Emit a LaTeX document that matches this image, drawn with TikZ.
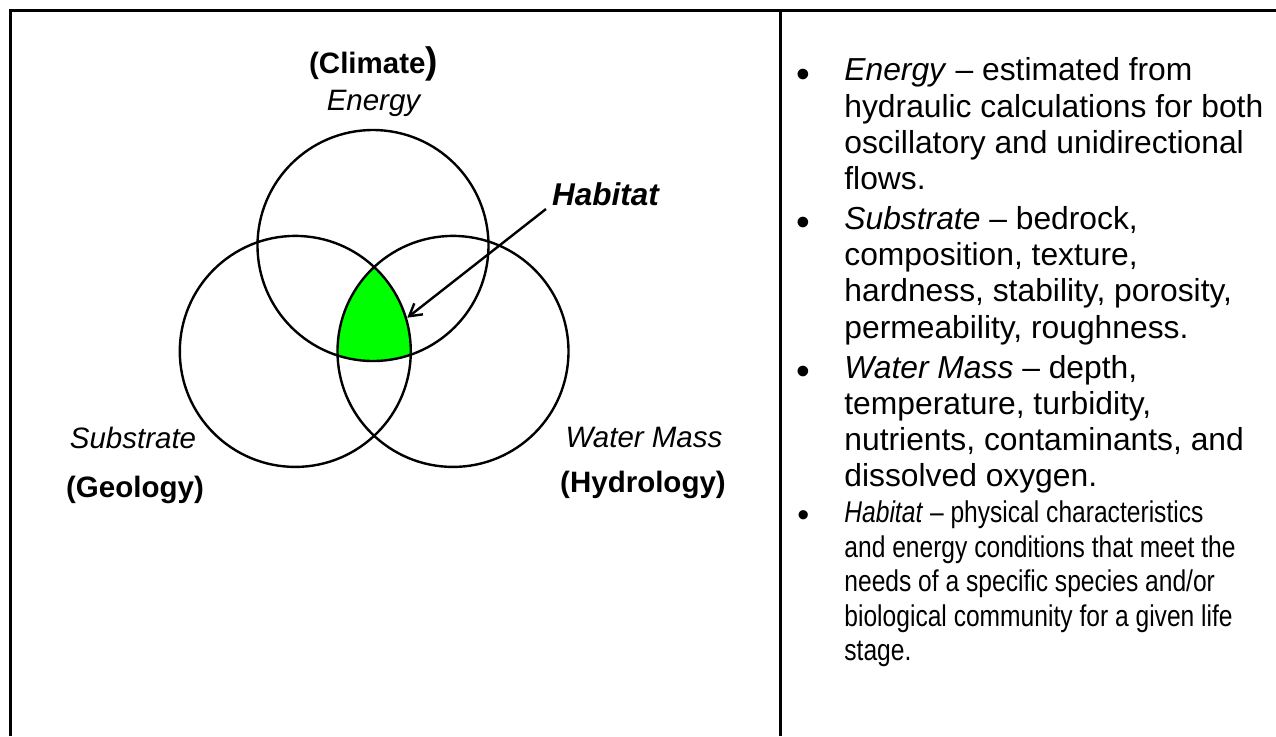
\documentclass[tikz,border=0pt]{standalone}
\usepackage{fontspec}
\setmainfont{Liberation Sans}
\newfontfamily\narrowsans[FakeStretch=0.82]{Liberation Sans}
\usetikzlibrary{arrows.meta}
\definecolor{habgreen}{RGB}{0,255,0}
\begin{document}
\begin{tikzpicture}[x=0.5pt,y=-0.5pt,
  frame/.style={line width=1.5pt},
  venn/.style={line width=1.2pt},
  lab/.style={inner sep=0pt, anchor=base, font=\fontsize{14.75}{17}\selectfont},
  habtext/.style={inner sep=0pt, anchor=base west, font=\fontsize{15.75}{18}\selectfont\bfseries\itshape},
  item/.style={inner sep=0pt, anchor=base west, font=\fontsize{15.9}{18.15}\selectfont},
  smallitem/.style={inner sep=0pt, anchor=base west, font=\narrowsans\fontsize{15}{17.25}\selectfont},
  bul/.style={inner sep=0pt, anchor=base, font=\fontsize{19.6}{20}\selectfont},
  smallbul/.style={inner sep=0pt, anchor=base, font=\fontsize{17}{18}\selectfont},
  pointer/.style={line width=1.2pt, -{Straight Barb[length=6pt,width=7pt]}}]
\useasboundingbox (0,0) rectangle (1276,736);
\fill[white] (0,0) rectangle (1276,736);
% frame
\draw[frame, line join=miter] (10.5,736) -- (10.5,10.5) -- (1276,10.5);
\draw[frame] (780.5,10.5) -- (780.5,736);
% circle centres
\coordinate (ctop) at (373,245.5);
\coordinate (cleft) at (295.3,351.4);
\coordinate (cright) at (453,351.4);
% habitat region
\begin{scope}
  \clip (ctop) circle (115.5);
  \clip (cleft) circle (115.5);
  \fill[habgreen] (cright) circle (115.5);
\end{scope}
\draw[venn] (ctop) circle (115.5);
\draw[venn] (cleft) circle (115.5);
\draw[venn] (cright) circle (115.5);
% labels
\node[lab] (climate) at (373.5,73) {\bfseries (Climate{\fontsize{18.5}{18.5}\selectfont )}};
\node[lab] (energy) at (373.5,110) {\itshape Energy};
\node[lab] (substrate) at (133,448) {\itshape Substrate};
\node[lab] (geology) at (135,497) {\bfseries (Geology)};
\node[lab] (water) at (644,447) {\itshape Water Mass};
\node[lab] (hydrology) at (643,492) {\bfseries (Hydrology)};
\node[habtext] (habitat) at (551.7,205) {Habitat};
\coordinate (hstart) at (546,209);
\coordinate (htip) at (407.3,317.7);
\draw[pointer] (hstart) -- (htip);
% right column
\node[bul] (b1) at (803.3,87) {•};
\node[item] (i1) at (844,80.7) {\parbox[t]{420pt}{\textit{Energy} – estimated from\\hydraulic calculations for both\\oscillatory and unidirectional\\flows.}};
\node[bul] (b2) at (803.3,235.6) {•};
\node[item] (i2) at (844,229.3) {\parbox[t]{420pt}{\textit{Substrate} – bedrock,\\composition, texture,\\hardness, stability, porosity,\\permeability, roughness.}};
\node[bul] (b3) at (803.3,384.3) {•};
\node[item] (i3) at (844,378) {\parbox[t]{420pt}{\textit{Water Mass} – depth,\\temperature, turbidity,\\nutrients, contaminants, and\\dissolved oxygen.}};
\node[smallbul] (b4) at (803.3,526) {•};
\node[smallitem] (i4) at (844,522.7) {\parbox[t]{420pt}{\textit{Habitat} – physical characteristics\\and energy conditions that meet the\\needs of a specific species and/or\\biological community for a given life\\stage.}};
\end{tikzpicture}
\end{document}
